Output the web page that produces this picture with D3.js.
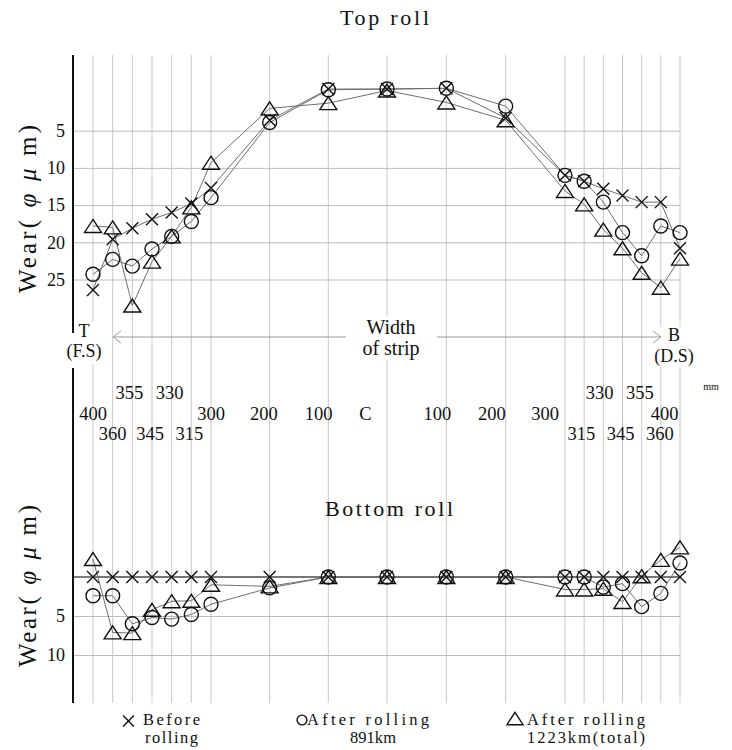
<!DOCTYPE html>
<html><head><meta charset="utf-8">
<script src="https://cdn.jsdelivr.net/npm/d3@7"></script>
<style>
body{margin:0;background:#fff}
svg{display:block}
text{font-family:"Liberation Serif","Times New Roman",serif;fill:#111}
</style>
</head><body>
<svg id="c" width="732" height="750"></svg>
<script>
// ---------- data ----------
const positions = ["400","360","355","345","330","315","300","200","100","C","100","200","300","315","330","345","355","360","400"];
const labelRows = [1,2,0,2,0,2,1,1,1,1,1,1,1,2,0,2,0,2,1]; // 0 upper, 1 middle, 2 lower
const topTicks = [5,10,15,20,25];
const bottomTicks = [5,10];
const seriesNames = ["Before rolling","After rolling 891km","After rolling 1223km(total)"];
const topBefore   = [26.4,19.6,18.1,16.9,16.0,14.8,12.7,3.6,-0.6,-0.6,-0.7,3.3,11.0,11.8,12.8,13.7,14.6,14.6,20.8];
const topAfter891 = [24.3,22.3,23.2,20.9,19.2,17.2,14.0,3.9,-0.5,-0.6,-0.7,1.7,11.0,11.8,14.6,18.7,21.8,17.8,18.7];
const topAfter1223= [17.8,18.0,28.5,22.6,19.2,15.3,9.3,2.0,1.3,-0.4,1.2,3.6,13.1,14.9,18.3,20.8,24.1,26.1,22.2];
const botBefore   = [0,0,0,0,0,0,0,0,0,0,0,0,0,0,0,0,0,0,0];
const botAfter891 = [2.4,2.4,6.0,5.2,5.4,4.8,3.5,1.4,0,0,0,0,0,0,1.3,0.85,3.8,2.1,-1.8];
const botAfter1223= [-2.3,7.1,7.2,4.2,3.1,3.05,1.0,1.2,0,0,0,0,1.6,1.6,1.5,3.2,-0.1,-2.2,-3.8];

// ---------- layout ----------
const svg = d3.select("#c");
const axisX = 73, rightX = 680;
// slot: outer measuring points are one slot apart, inner 100 mm points three slots apart
const slot = i => i <= 6 ? i : (i <= 12 ? 6 + 3*(i-6) : 24 + (i-12));
const x = d3.scaleLinear().domain([0,6,15,24,30]).range([93,211,387,565,680]);
const xi = i => x(slot(i));
const yTop = d3.scaleLinear().domain([5,25]).range([130.7,279.5]);
const yBot = d3.scaleLinear().domain([0,10]).range([577,655]);
// small horizontal shifts (in slot units) of tick labels as printed
const labelShift = [0,0,-0.15,-0.1,-0.1,-0.1,0,-0.3,-0.5,-1.1,-0.45,-0.7,-1.0,-0.15,-0.2,-0.1,-0.1,-0.05,-0.8];
const rowY = [399,420,440];

const gridColor = "#c9c9c9";

// vertical grid lines
svg.append("g").selectAll("line").data(positions).join("line")
  .attr("x1",(d,i)=>xi(i)).attr("x2",(d,i)=>xi(i))
  .attr("y1",55).attr("y2",703)
  .attr("stroke",gridColor).attr("stroke-width",1);

// horizontal grid lines
const gTop = svg.append("g").attr("transform",`translate(${axisX},0)`)
  .call(d3.axisLeft(yTop).tickValues(topTicks).tickSize(-(rightX-axisX)).tickFormat(""));
gTop.select(".domain").remove();
gTop.selectAll(".tick line").attr("stroke","#bdbdbd");

const gBot = svg.append("g").attr("transform",`translate(${axisX},0)`)
  .call(d3.axisLeft(yBot).tickValues(bottomTicks).tickSize(-(rightX-axisX)).tickFormat(""));
gBot.select(".domain").remove();
gBot.selectAll(".tick line").attr("stroke","#bdbdbd");

// zero line bottom
svg.append("line").attr("x1",axisX).attr("x2",rightX)
  .attr("y1",yBot(0)).attr("y2",yBot(0)).attr("stroke","#555").attr("stroke-width",1.3);

// tick labels on y
function yLabels(scale, ticks){
  const g = svg.append("g").attr("transform",`translate(${axisX},0)`)
    .call(d3.axisLeft(scale).tickValues(ticks).tickSize(0).tickPadding(8));
  g.select(".domain").remove();
  g.selectAll("text").attr("font-size",18).attr("font-family","Liberation Serif").attr("fill","#111");
}
yLabels(yTop, topTicks);
yLabels(yBot, bottomTicks);

// white backgrounds behind centre texts
svg.append("rect").attr("x",348).attr("y",316).attr("width",88).attr("height",44).attr("fill","#fff");
svg.append("rect").attr("x",62).attr("y",322).attr("width",46).attr("height",42).attr("fill","#fff");
svg.append("rect").attr("x",650).attr("y",327).attr("width",48).attr("height",40).attr("fill","#fff");

// left axis line (two segments)
svg.append("line").attr("x1",axisX).attr("x2",axisX).attr("y1",55).attr("y2",333).attr("stroke","#111").attr("stroke-width",2);
svg.append("line").attr("x1",axisX).attr("x2",axisX).attr("y1",368).attr("y2",703).attr("stroke","#111").attr("stroke-width",2);

// width-of-strip arrow
const arrowY = 337;
svg.append("line").attr("x1",113).attr("x2",346).attr("y1",arrowY).attr("y2",arrowY).attr("stroke","#999");
svg.append("line").attr("x1",437).attr("x2",661).attr("y1",arrowY).attr("y2",arrowY).attr("stroke","#999");
svg.append("path").attr("d",`M121,${arrowY-6}L113,${arrowY}L121,${arrowY+6}`).attr("fill","none").attr("stroke","#999");
svg.append("path").attr("d",`M653,${arrowY-6}L661,${arrowY}L653,${arrowY+6}`).attr("fill","none").attr("stroke","#999");
svg.append("text").attr("x",391).attr("y",334).attr("text-anchor","middle").attr("font-size",20).text("Width");
svg.append("text").attr("x",391).attr("y",355).attr("text-anchor","middle").attr("font-size",20).text("of strip");
svg.append("text").attr("x",84).attr("y",337).attr("text-anchor","middle").attr("font-size",18).text("T");
svg.append("text").attr("x",84).attr("y",357).attr("text-anchor","middle").attr("font-size",18).text("(F.S)");
svg.append("text").attr("x",674).attr("y",341).attr("text-anchor","middle").attr("font-size",18).text("B");
svg.append("text").attr("x",674).attr("y",362).attr("text-anchor","middle").attr("font-size",18).text("(D.S)");

// x labels
svg.append("g").selectAll("text").data(positions).join("text")
  .attr("x",(d,i)=>x(slot(i)+labelShift[i]))
  .attr("y",(d,i)=>rowY[labelRows[i]])
  .attr("text-anchor","middle").attr("font-size",18.5).text(d=>d);
svg.append("text").attr("x",711).attr("y",390).attr("text-anchor","middle").attr("font-size",10).attr("fill","#333").text("mm");

// titles
svg.append("text").attr("x",384.5).attr("y",25).attr("text-anchor","middle").attr("font-size",22)
  .attr("textLength",89).attr("lengthAdjust","spacing").text("Top roll");
svg.append("text").attr("x",389).attr("y",516).attr("text-anchor","middle").attr("font-size",22)
  .attr("textLength",128).attr("lengthAdjust","spacing").text("Bottom roll");

function yTitle(cy, len){
  const t = svg.append("text").attr("transform",`translate(36,${cy}) rotate(-90)`)
    .attr("text-anchor","middle").attr("font-size",25)
    .attr("textLength",len).attr("lengthAdjust","spacing");
  t.append("tspan").text("Wear( ");
  t.append("tspan").attr("font-style","italic").text("φ");
  t.append("tspan").text(" ");
  t.append("tspan").attr("font-style","italic").text("μ");
  t.append("tspan").text(" m)");
}
yTitle(209,168);
yTitle(586,162);

// ---------- markers ----------
function drawMark(g, type, cx, cy, s=1){
  if(type===0){
    g.append("path").attr("d",`M${cx-6*s},${cy-6*s}L${cx+6*s},${cy+6*s}M${cx-6*s},${cy+6*s}L${cx+6*s},${cy-6*s}`)
      .attr("stroke","#111").attr("stroke-width",1.4).attr("fill","none");
  } else if(type===1){
    g.append("circle").attr("cx",cx).attr("cy",cy).attr("r",7*s)
      .attr("stroke","#111").attr("stroke-width",1.4).attr("fill","none");
  } else {
    g.append("path").attr("d",`M${cx},${cy-6.5*s}L${cx+8.5*s},${cy+6.5*s}L${cx-8.5*s},${cy+6.5*s}Z`)
      .attr("stroke","#111").attr("stroke-width",1.4).attr("fill","none").attr("stroke-linejoin","miter");
  }
}

function drawChart(seriesList, yScale){
  const line = d3.line().x((d,i)=>xi(i)).y(d=>yScale(d));
  const gl = svg.append("g");
  seriesList.forEach(s=>{
    gl.append("path").datum(s).attr("d",line).attr("fill","none").attr("stroke","#6f6f6f").attr("stroke-width",1);
  });
  const gm = svg.append("g");
  seriesList.forEach((s,k)=>{
    s.forEach((v,i)=>drawMark(gm,k,xi(i),yScale(v)));
  });
}
drawChart([topBefore,topAfter891,topAfter1223], yTop);
drawChart([botBefore,botAfter891,botAfter1223], yBot);

// ---------- legend ----------
const lg = svg.append("g");
drawMark(lg,0,128.5,721,0.9);
drawMark(lg,1,302,720,0.7);
drawMark(lg,2,515,718.5,0.95);
const leg = [
  {x:143,y:725,t:"Before",w:57},{x:145,y:743,t:"rolling",w:53},
  {x:307,y:725,t:"After rolling",w:122},{x:350,y:743,t:"891km",w:46},
  {x:527,y:725,t:"After rolling",w:118},{x:527,y:743,t:"1223km(total)",w:118}
];
lg.selectAll("text.l").data(leg).join("text").attr("class","l")
  .attr("x",d=>d.x).attr("y",d=>d.y).attr("font-size",16.5)
  .attr("textLength",d=>d.w).attr("lengthAdjust","spacing").text(d=>d.t);
</script>
</body></html>
